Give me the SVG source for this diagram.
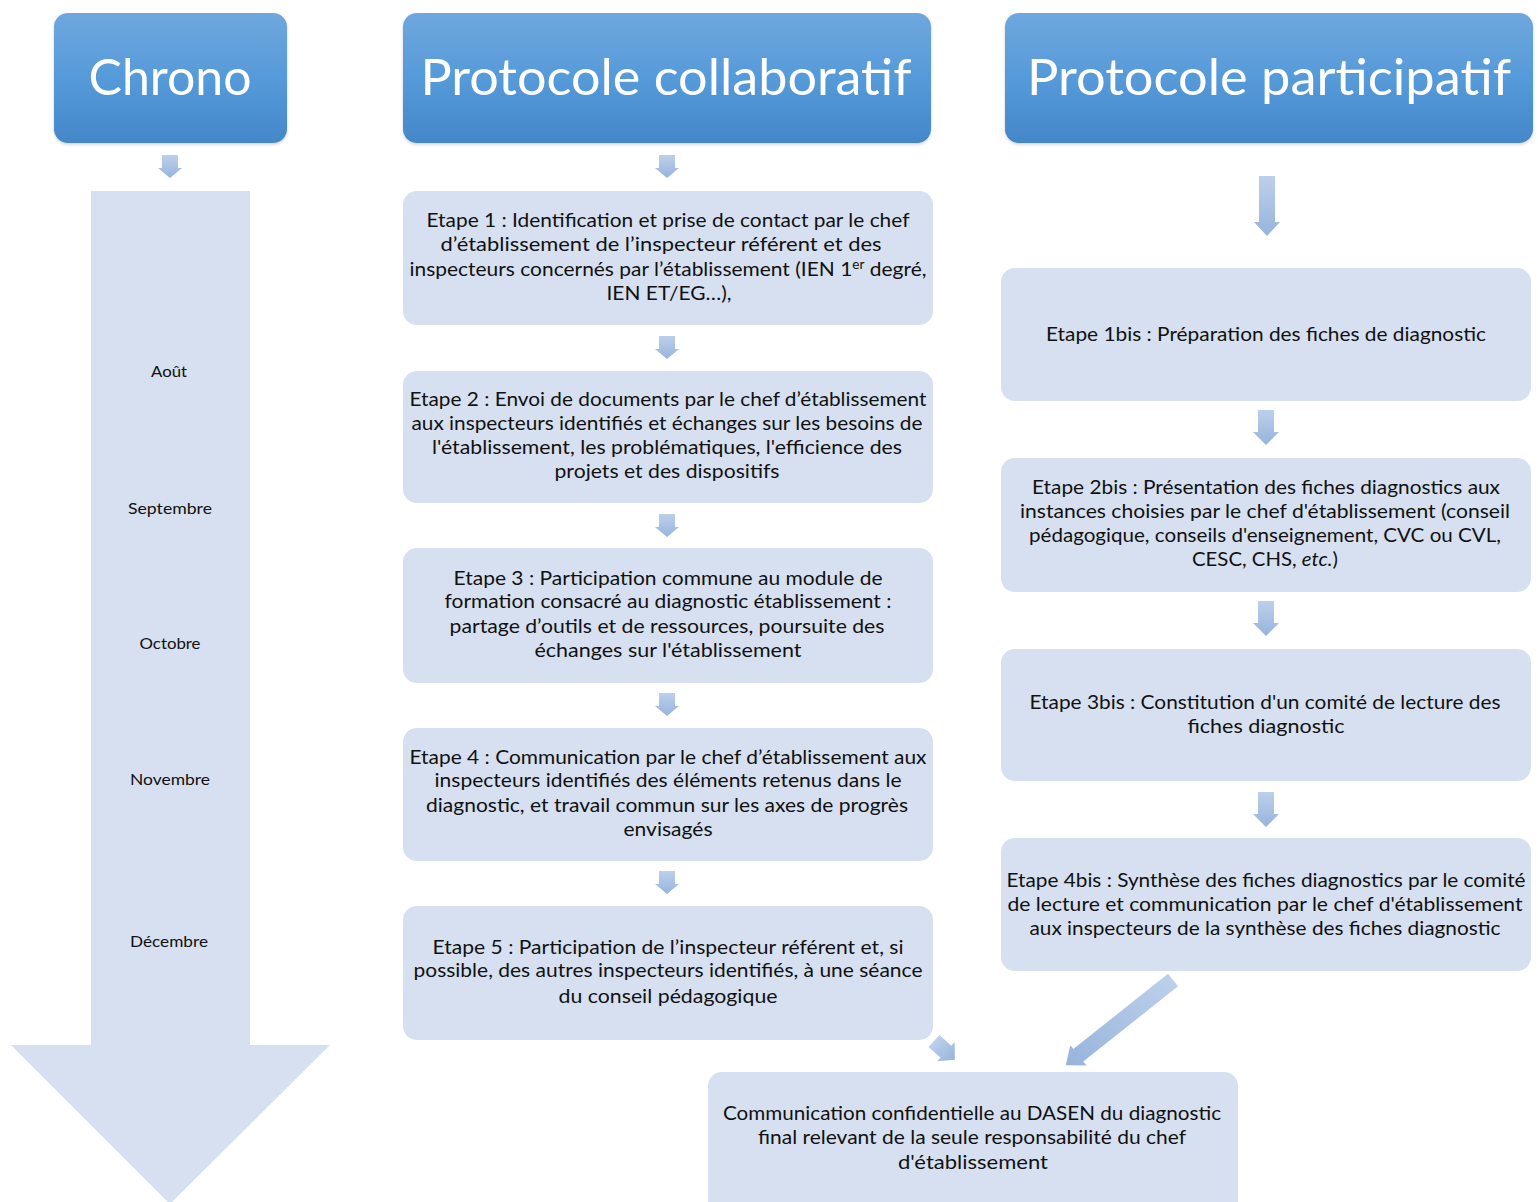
<svg xmlns="http://www.w3.org/2000/svg" width="1538" height="1202" viewBox="0 0 1538 1202">
  <defs>
    <linearGradient id="hdr" x1="0" y1="0" x2="0" y2="1">
      <stop offset="0" stop-color="#6fa7de"/>
      <stop offset="0.5" stop-color="#559ad9"/>
      <stop offset="1" stop-color="#4487c9"/>
    </linearGradient>
    <linearGradient id="arr" x1="0" y1="0" x2="0" y2="1">
      <stop offset="0" stop-color="#bcd0eb"/>
      <stop offset="1" stop-color="#97b4dc"/>
    </linearGradient>
    <linearGradient id="arrx" x1="0" y1="0" x2="1" y2="0">
      <stop offset="0" stop-color="#bcd0eb"/>
      <stop offset="1" stop-color="#97b4dc"/>
    </linearGradient>
    <filter id="sh" x="-5%" y="-5%" width="110%" height="115%">
      <feDropShadow dx="0" dy="1.5" stdDeviation="1.5" flood-color="#000" flood-opacity="0.18"/>
    </filter>
    <!-- short down arrow, 23 tall -->
    <path id="dn" d="M-8,0 H8 V13 H12 L0,23 L-12,13 H-8 Z"/>
    <!-- medium down arrow, 35 tall -->
    <path id="dn2" d="M-8,0 H8 V22 H13 L0,35 L-13,22 H-8 Z"/>
    <!-- long down arrow, 60 tall -->
    <path id="dn3" d="M-8,0 H8 V46 H13 L0,60 L-13,46 H-8 Z"/>
  </defs>
  <style>
    .hdr { fill: url(#hdr); filter: url(#sh); }
    .box { fill: #d6e0f0; }
    .ht { font-family: Lato, "Open Sans", "Liberation Sans", sans-serif; font-size: 50px; fill: #ffffff; text-anchor: middle; }
    .t { font-family: Lato, "Open Sans", "Liberation Sans", sans-serif; font-size: 20px; fill: #111111; text-anchor: middle; }
    .m { font-family: Lato, "Open Sans", "Liberation Sans", sans-serif; font-size: 16px; fill: #111111; text-anchor: middle; }
    .a { fill: url(#arr); }
    .ax { fill: url(#arrx); }
  </style>
  <rect width="1538" height="1202" fill="#ffffff"/>

  <!-- Headers -->
  <g id="hdr-chrono">
    <rect class="hdr" x="54" y="13" width="233" height="130" rx="14"/>
    <text class="ht" x="170" y="95" textLength="163" lengthAdjust="spacingAndGlyphs">Chrono</text>
  </g>
  <g id="hdr-collab">
    <rect class="hdr" x="403" y="13" width="528" height="130" rx="14"/>
    <text class="ht" x="666" y="95" textLength="491" lengthAdjust="spacingAndGlyphs">Protocole collaboratif</text>
  </g>
  <g id="hdr-partic">
    <rect class="hdr" x="1005" y="13" width="528" height="130" rx="14"/>
    <text class="ht" x="1269" y="95" textLength="484" lengthAdjust="spacingAndGlyphs">Protocole participatif</text>
  </g>

  <!-- Timeline -->
  <g id="chrono">
    <path class="box" d="M91,191 H250 V1045 H330 L170,1204 L11,1045 H91 Z"/>
    <text class="m" x="169" y="377" textLength="36" lengthAdjust="spacingAndGlyphs">Août</text>
    <text class="m" x="170" y="514" textLength="84" lengthAdjust="spacingAndGlyphs">Septembre</text>
    <text class="m" x="170" y="649" textLength="61" lengthAdjust="spacingAndGlyphs">Octobre</text>
    <text class="m" x="170" y="785" textLength="80" lengthAdjust="spacingAndGlyphs">Novembre</text>
    <text class="m" x="169" y="947" textLength="78" lengthAdjust="spacingAndGlyphs">Décembre</text>
  </g>

  <!-- Collaborative protocol steps -->
  <g id="etape1">
    <rect class="box" x="403" y="191" width="530" height="134" rx="14"/>
    <text class="t" x="668" y="227" textLength="483" lengthAdjust="spacingAndGlyphs">Etape 1 : Identification et prise de contact par le chef</text>
    <text class="t" x="661" y="251" textLength="441" lengthAdjust="spacingAndGlyphs">d’établissement de l’inspecteur référent et des</text>
    <text class="t" x="668" y="276" textLength="517" lengthAdjust="spacingAndGlyphs">inspecteurs concernés par l’établissement (IEN 1<tspan font-size="13" dy="-7">er</tspan><tspan dy="7"> degré,</tspan></text>
    <text class="t" x="669" y="300" textLength="125" lengthAdjust="spacingAndGlyphs">IEN ET/EG…),</text>
  </g>
  <g id="etape2">
    <rect class="box" x="403" y="371" width="530" height="132" rx="14"/>
    <text class="t" x="668" y="406" textLength="517" lengthAdjust="spacingAndGlyphs">Etape 2 : Envoi de documents par le chef d’établissement</text>
    <text class="t" x="667" y="430" textLength="511" lengthAdjust="spacingAndGlyphs">aux inspecteurs identifiés et échanges sur les besoins de</text>
    <text class="t" x="667" y="454" textLength="470" lengthAdjust="spacingAndGlyphs">l'établissement, les problématiques, l'efficience des</text>
    <text class="t" x="667" y="478" textLength="225" lengthAdjust="spacingAndGlyphs">projets et des dispositifs</text>
  </g>
  <g id="etape3">
    <rect class="box" x="403" y="548" width="530" height="135" rx="14"/>
    <text class="t" x="668" y="585" textLength="429" lengthAdjust="spacingAndGlyphs">Etape 3 : Participation commune au module de</text>
    <text class="t" x="668" y="608" textLength="447" lengthAdjust="spacingAndGlyphs">formation consacré au diagnostic établissement :</text>
    <text class="t" x="667" y="633" textLength="435" lengthAdjust="spacingAndGlyphs">partage d’outils et de ressources, poursuite des</text>
    <text class="t" x="668" y="657" textLength="267" lengthAdjust="spacingAndGlyphs">échanges sur l'établissement</text>
  </g>
  <g id="etape4">
    <rect class="box" x="403" y="728" width="530" height="133" rx="14"/>
    <text class="t" x="668" y="764" textLength="517" lengthAdjust="spacingAndGlyphs">Etape 4 : Communication par le chef d’établissement aux</text>
    <text class="t" x="668" y="787" textLength="467" lengthAdjust="spacingAndGlyphs">inspecteurs identifiés des éléments retenus dans le</text>
    <text class="t" x="667" y="812" textLength="482" lengthAdjust="spacingAndGlyphs">diagnostic, et travail commun sur les axes de progrès</text>
    <text class="t" x="668" y="836" textLength="89" lengthAdjust="spacingAndGlyphs">envisagés</text>
  </g>
  <g id="etape5">
    <rect class="box" x="403" y="906" width="530" height="134" rx="14"/>
    <text class="t" x="668" y="954" textLength="471" lengthAdjust="spacingAndGlyphs">Etape 5 : Participation de l’inspecteur référent et, si</text>
    <text class="t" x="668" y="977" textLength="509" lengthAdjust="spacingAndGlyphs">possible, des autres inspecteurs identifiés, à une séance</text>
    <text class="t" x="668" y="1003" textLength="219" lengthAdjust="spacingAndGlyphs">du conseil pédagogique</text>
  </g>

  <!-- Participative protocol steps -->
  <g id="etape1bis">
    <rect class="box" x="1001" y="268" width="530" height="133" rx="14"/>
    <text class="t" x="1266" y="341" textLength="440" lengthAdjust="spacingAndGlyphs">Etape 1bis : Préparation des fiches de diagnostic</text>
  </g>
  <g id="etape2bis">
    <rect class="box" x="1001" y="458" width="530" height="134" rx="14"/>
    <text class="t" x="1266" y="494" textLength="468" lengthAdjust="spacingAndGlyphs">Etape 2bis : Présentation des fiches diagnostics aux</text>
    <text class="t" x="1265" y="518" textLength="490" lengthAdjust="spacingAndGlyphs">instances choisies par le chef d'établissement (conseil</text>
    <text class="t" x="1265" y="542" textLength="472" lengthAdjust="spacingAndGlyphs">pédagogique, conseils d'enseignement, CVC ou CVL,</text>
    <text class="t" x="1265" y="566" textLength="146" lengthAdjust="spacingAndGlyphs">CESC, CHS, <tspan font-style="italic">etc.</tspan>)</text>
  </g>
  <g id="etape3bis">
    <rect class="box" x="1001" y="649" width="530" height="132" rx="14"/>
    <text class="t" x="1265" y="709" textLength="471" lengthAdjust="spacingAndGlyphs">Etape 3bis : Constitution d'un comité de lecture des</text>
    <text class="t" x="1266" y="733" textLength="157" lengthAdjust="spacingAndGlyphs">fiches diagnostic</text>
  </g>
  <g id="etape4bis">
    <rect class="box" x="1001" y="838" width="530" height="133" rx="14"/>
    <text class="t" x="1266" y="887" textLength="519" lengthAdjust="spacingAndGlyphs">Etape 4bis : Synthèse des fiches diagnostics par le comité</text>
    <text class="t" x="1265" y="911" textLength="515" lengthAdjust="spacingAndGlyphs">de lecture et communication par le chef d'établissement</text>
    <text class="t" x="1265" y="935" textLength="471" lengthAdjust="spacingAndGlyphs">aux inspecteurs de la synthèse des fiches diagnostic</text>
  </g>

  <!-- Final step -->
  <g id="final">
    <rect class="box" x="708" y="1072" width="530" height="150" rx="14"/>
    <text class="t" x="972" y="1120" textLength="498" lengthAdjust="spacingAndGlyphs">Communication confidentielle au DASEN du diagnostic</text>
    <text class="t" x="972" y="1144" textLength="428" lengthAdjust="spacingAndGlyphs">final relevant de la seule responsabilité du chef</text>
    <text class="t" x="973" y="1169" textLength="150" lengthAdjust="spacingAndGlyphs">d'établissement</text>
  </g>

  <!-- Connectors -->
  <g id="connectors">
    <use href="#dn" class="a" x="170" y="155"/>
    <use href="#dn" class="a" x="667" y="155"/>
    <use href="#dn" class="a" x="667" y="336"/>
    <use href="#dn" class="a" x="667" y="514"/>
    <use href="#dn" class="a" x="667" y="693"/>
    <use href="#dn" class="a" x="667" y="871"/>
    <use href="#dn3" class="a" x="1267" y="176"/>
    <use href="#dn2" class="a" x="1266" y="410"/>
    <use href="#dn2" class="a" x="1266" y="601"/>
    <use href="#dn2" class="a" x="1266" y="792"/>
    <!-- step 5 to final -->
    <path class="ax" transform="translate(934,1041) rotate(42)" d="M0,-8 H16 V-13 L28,0 L16,13 V8 H0 Z"/>
    <!-- step 4bis to final -->
    <path class="ax" transform="translate(1173,980) rotate(141.5)" d="M0,-8 H121 V-13 L137,0 L121,13 V8 H0 Z"/>
  </g>
</svg>
